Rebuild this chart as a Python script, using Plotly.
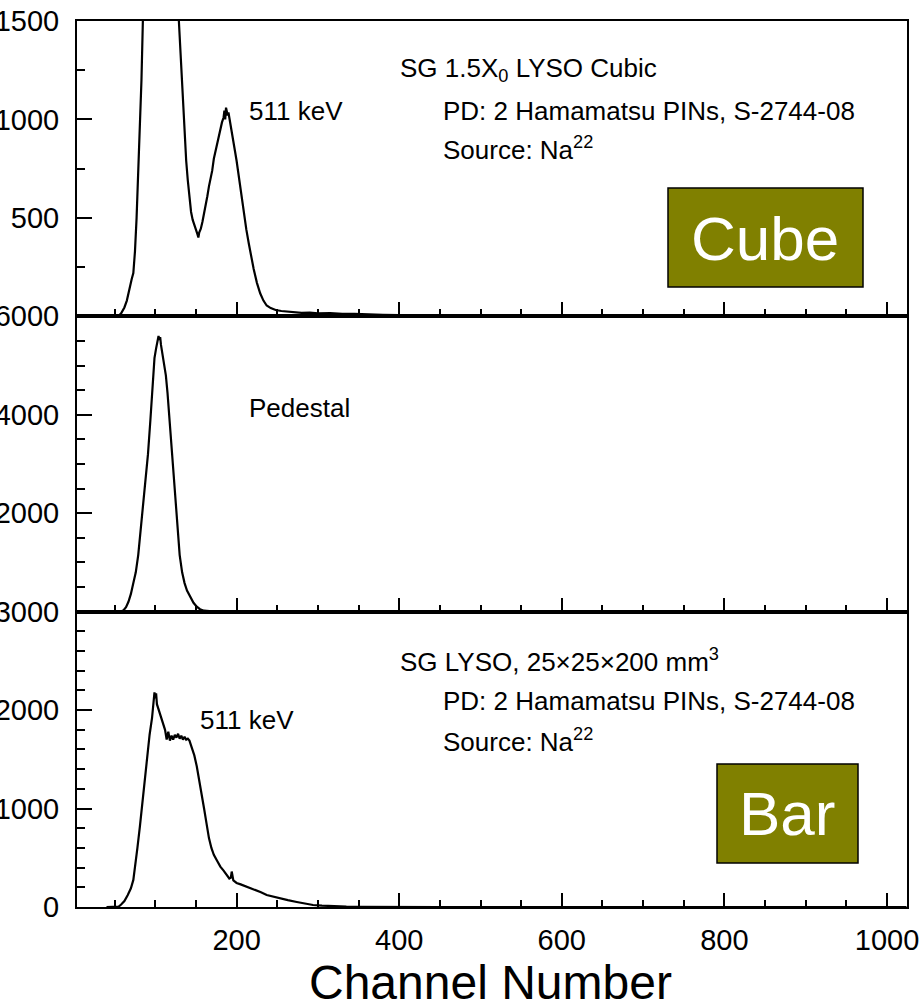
import plotly.graph_objects as go
from plotly.subplots import make_subplots

# ---------------- data ----------------
cube_channel = [40, 55, 58, 62, 65, 68, 71, 73, 75, 77, 79, 81, 83, 85, 88, 92, 97, 103, 110, 118,
                124, 129, 132, 134, 136, 138, 140, 142, 144, 146, 148, 150, 152, 153, 154, 156, 158, 160, 162, 164,
                166, 168, 170, 172, 174, 176, 178, 180, 182, 184, 185, 186, 187, 188, 189, 190, 192, 194, 196, 198,
                200, 203, 206, 209, 212, 215, 218, 221, 225, 229, 233, 237, 242, 248, 255, 262, 270, 280, 290, 300,
                315, 330, 345, 360, 380, 400, 430, 470, 520, 600, 700, 1024]
cube_counts = [0, 3, 15, 45, 80, 140, 190, 220, 330, 500, 720, 930, 1200, 1550, 2200, 3100, 3900, 4300, 4000, 3000,
               2100, 1500, 1250, 1080, 930, 790, 690, 590, 530, 490, 460, 440, 415, 400, 425, 445, 480, 520, 560, 610,
               660, 700, 740, 800, 840, 880, 910, 950, 985, 1010, 1045, 1000, 1060, 1040, 1020, 1035, 980, 940, 880, 840,
               790, 700, 610, 520, 440, 370, 300, 240, 170, 117, 80, 55, 42, 32, 27, 24, 22, 18, 19, 15,
               16, 12, 12, 9, 8, 6, 4, 3, 2, 1, 0, 0]

ped_channel = [40, 58, 61, 64, 67, 70, 73, 76, 79, 82, 85, 88, 91, 94, 97, 99, 101, 103, 104, 105,
               106, 107, 109, 111, 113, 115, 118, 121, 124, 127, 130, 133, 136, 139, 143, 147, 151, 155, 160, 170,
               190, 230, 300, 1024]
ped_counts = [0, 5, 30, 90, 200, 360, 580, 800, 1150, 1650, 2150, 2650, 3200, 3900, 4800, 5150, 5350, 5480, 5600, 5520,
              5580, 5420, 5200, 4950, 4800, 4450, 3800, 3200, 2500, 1800, 1150, 800, 580, 430, 300, 180, 100, 50, 20, 8,
              3, 1, 0, 0]

bar_channel = [40, 55, 58, 62, 66, 70, 73, 76, 78, 81, 84, 87, 90, 93, 96, 98, 99, 100, 101, 102,
               104, 106, 108, 110, 112, 114, 116, 118, 120, 122, 124, 126, 128, 130, 132, 134, 136, 138, 140, 142,
               144, 146, 148, 151, 154, 157, 160, 163, 166, 169, 172, 176, 180, 184, 188, 191, 193, 194, 196, 200,
               205, 210, 216, 222, 230, 237, 245, 253, 263, 274, 284, 294, 305, 315, 325, 335, 350, 380, 450, 1024]
bar_counts = [0, 5, 25, 60, 120, 190, 275, 440, 600, 814, 1050, 1300, 1530, 1750, 1920, 2080, 2180, 2120, 2170, 2060,
              2010, 1940, 1890, 1860, 1800, 1700, 1780, 1690, 1740, 1700, 1750, 1720, 1760, 1710, 1740, 1700, 1730, 1700, 1710, 1690,
              1640, 1590, 1540, 1430, 1300, 1170, 1000, 850, 700, 600, 530, 470, 410, 370, 320, 290, 300, 360, 270, 244,
              230, 215, 195, 175, 150, 122, 105, 92, 70, 51, 36, 20, 14, 8, 5, 3, 2, 1, 0, 0]

x_ticks = [200, 400, 600, 800, 1000]
x_minor = [50, 100, 150, 250, 300, 350, 450, 500, 550, 650, 700, 750, 850, 900, 950]
top_ticks = [500, 1000, 1500]
top_minor = [250, 750, 1250]
mid_ticks = [2000, 4000, 6000]
mid_minor = [500, 1000, 1500, 2500, 3000, 3500, 4500, 5000, 5500]
bot_ticks = [0, 1000, 2000, 3000]
bot_minor = [200, 400, 600, 800, 1200, 1400, 1600, 1800, 2200, 2400, 2600, 2800]

# ---------------- figure ----------------
W, H = 923, 1007
L, R, T, B = 77, 16, 21, 100
FONT = "Liberation Sans, Arial, Helvetica, sans-serif"

fig = make_subplots(rows=3, cols=1, shared_xaxes=True, vertical_spacing=0)
line = dict(color="black", width=2.2)
fig.add_trace(go.Scatter(x=cube_channel, y=cube_counts, mode="lines", line=line), row=1, col=1)
fig.add_trace(go.Scatter(x=ped_channel, y=ped_counts, mode="lines", line=line), row=2, col=1)
fig.add_trace(go.Scatter(x=bar_channel, y=bar_counts, mode="lines", line=line), row=3, col=1)

for r in (1, 2, 3):
    fig.update_xaxes(
        row=r, col=1, range=[3.7, 1024.6], showgrid=False, zeroline=False, automargin=False,
        showline=True, linecolor="black", linewidth=2, mirror=True,
        tickmode="array", tickvals=x_ticks, ticks="inside", ticklen=14, tickwidth=1.5, tickcolor="black",
        minor=dict(tickmode="array", tickvals=x_minor, ticks="inside", ticklen=7, tickwidth=1.5, tickcolor="black"),
        showticklabels=(r == 3), ticklabelstandoff=6,
        tickfont=dict(family=FONT, size=29, color="black"),
    )

yspec = {1: ([0, 1500], top_ticks, top_minor), 2: ([0, 6000], mid_ticks, mid_minor), 3: ([0, 3000], bot_ticks, bot_minor)}
for r, (rng, tv, mv) in yspec.items():
    fig.update_yaxes(
        row=r, col=1, range=rng, showgrid=False, zeroline=False, automargin=False,
        showline=True, linecolor="black", linewidth=2, mirror=True,
        tickmode="array", tickvals=tv, ticks="inside", ticklen=15, tickwidth=1.5, tickcolor="black",
        minor=dict(tickmode="array", tickvals=mv, ticks="inside", ticklen=8, tickwidth=1.5, tickcolor="black"),
        ticklabelstandoff=10,
        tickfont=dict(family=FONT, size=29, color="black"),
    )


def px(x):
    return (x - L) / (W - L - R)


def py(y):
    return (H - B - y) / (H - T - B)


ann = []


def text(s, x, y, size=26, color="black", xanchor="left"):
    ann.append(dict(text=s, x=px(x), y=py(y), xref="paper", yref="paper", showarrow=False,
                    xanchor=xanchor, yanchor="middle", font=dict(family=FONT, size=size, color=color)))


text("SG 1.5X<sub>0</sub> LYSO Cubic", 398, 70)
text("PD: 2 Hamamatsu PINs, S-2744-08", 441, 111)
text("Source: Na<sup>22</sup>", 441, 148)
text("511 keV", 247, 111)
text("Pedestal", 247, 408)
text("SG LYSO, 25×25×200 mm<sup>3</sup>", 398, 660)
text("PD: 2 Hamamatsu PINs, S-2744-08", 441, 701)
text("Source: Na<sup>22</sup>", 441, 740)
text("511 keV", 198, 720)
text("Cube", 765, 238, size=62, color="white", xanchor="center")
text("Bar", 787, 813, size=62, color="white", xanchor="center")
text("Channel Number", 490, 982, size=48, xanchor="center")

shapes = []
for (x0, y0, x1, y1) in [(668, 188, 863, 287), (717, 764, 858, 863)]:
    shapes.append(dict(type="rect", xref="paper", yref="paper", x0=px(x0), x1=px(x1), y0=py(y1), y1=py(y0),
                       fillcolor="#808000", line=dict(color="black", width=1.5), layer="below"))

fig.update_layout(
    width=W, height=H, margin=dict(l=L, r=R, t=T, b=B, autoexpand=False),
    paper_bgcolor="white", plot_bgcolor="white", showlegend=False,
    font=dict(family=FONT, size=27, color="black"),
    annotations=ann, shapes=shapes,
)

fig.write_html("out.html")
